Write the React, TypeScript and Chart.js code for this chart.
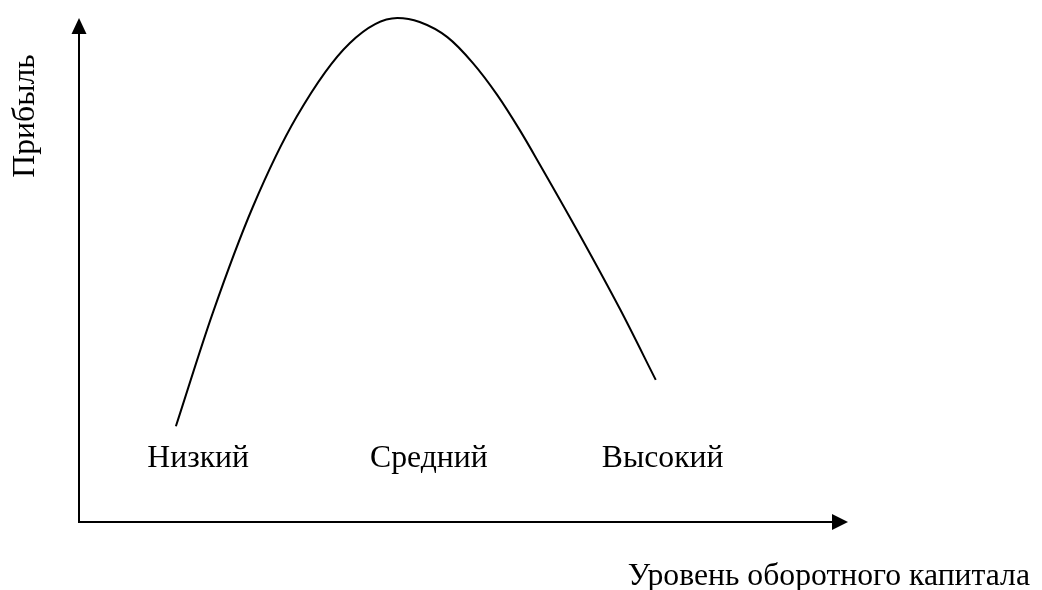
import React, { useEffect, useRef } from "react";
import { Chart, registerables } from "chart.js";

Chart.register(...registerables);

// Profit curve against the working-capital level (arbitrary units 0..10)
const curveX = [1.26, 1.74, 2.26, 2.83, 3.52, 4.14, 4.43, 4.79, 5.12, 5.44, 5.73, 5.99, 6.51, 7.04, 7.5];
const curveY = [1.9, 4.15, 6.25, 8.04, 9.5, 10.0, 9.92, 9.62, 9.11, 8.47, 7.78, 7.1, 5.7, 4.21, 2.82];

// Working-capital levels and where they sit along the horizontal axis
const levelLabels = ["Низкий", "Средний", "Высокий"];
const levelX = [1.55, 4.55, 7.59];
const levelY = 1.09;

const xTitle = "Уровень оборотного капитала";
const yTitle = "Прибыль";

const FONT = "31.7px 'Liberation Serif', 'Times New Roman', serif";

const axesPlugin = {
  id: "arrowAxes",
  afterDatasetsDraw(chart: any) {
    const { ctx, scales } = chart;
    const xs = scales.x;
    const ys = scales.y;
    const ox = xs.getPixelForValue(0);
    const oy = ys.getPixelForValue(0);
    const xEnd = xs.getPixelForValue(xs.max);
    const yEnd = ys.getPixelForValue(ys.max);
    ctx.save();
    ctx.strokeStyle = "#000";
    ctx.fillStyle = "#000";
    ctx.lineWidth = 2;
    // axis lines
    ctx.beginPath();
    ctx.moveTo(ox, yEnd + 10);
    ctx.lineTo(ox, oy);
    ctx.lineTo(xEnd - 10, oy);
    ctx.stroke();
    // arrow heads
    ctx.beginPath();
    ctx.moveTo(ox, yEnd);
    ctx.lineTo(ox - 7.5, yEnd + 16);
    ctx.lineTo(ox + 7.5, yEnd + 16);
    ctx.closePath();
    ctx.fill();
    ctx.beginPath();
    ctx.moveTo(xEnd, oy);
    ctx.lineTo(xEnd - 16, oy - 8);
    ctx.lineTo(xEnd - 16, oy + 8);
    ctx.closePath();
    ctx.fill();

    ctx.font = FONT;
    ctx.textBaseline = "alphabetic";
    // level labels
    ctx.textAlign = "center";
    levelLabels.forEach((t, i) => {
      ctx.fillText(t, xs.getPixelForValue(levelX[i]), ys.getPixelForValue(levelY));
    });
    // horizontal axis title
    ctx.textAlign = "right";
    ctx.fillText(xTitle, 1030, 585);
    // vertical axis title
    ctx.save();
    ctx.translate(34, 116);
    ctx.rotate(-Math.PI / 2);
    ctx.textAlign = "center";
    ctx.fillText(yTitle, 0, 0);
    ctx.restore();
    ctx.restore();
  },
};

export default function App() {
  const ref = useRef<HTMLCanvasElement>(null);
  useEffect(() => {
    if (!ref.current) return;
    const chart = new Chart(ref.current, {
      type: "line",
      data: {
        datasets: [
          {
            data: curveX.map((x, i) => ({ x, y: curveY[i] })),
            borderColor: "#000",
            borderWidth: 2,
            pointRadius: 0,
            cubicInterpolationMode: "monotone",
            fill: false,
            clip: false,
          } as any,
        ],
      },
      options: {
        responsive: false,
        animation: false,
        layout: { padding: { left: 79, right: 194, top: 18, bottom: 68 } },
        plugins: { legend: { display: false }, tooltip: { enabled: false } },
        scales: {
          x: { type: "linear", min: 0, max: 10, display: false },
          y: { type: "linear", min: 0, max: 10, display: false },
        },
      },
      plugins: [axesPlugin],
    });
    return () => chart.destroy();
  }, []);
  return (
    <div style={{ position: "absolute", left: 0, top: 0, width: 1042, height: 590, background: "#fff" }}>
      <canvas ref={ref} width={1042} height={590} />
    </div>
  );
}
